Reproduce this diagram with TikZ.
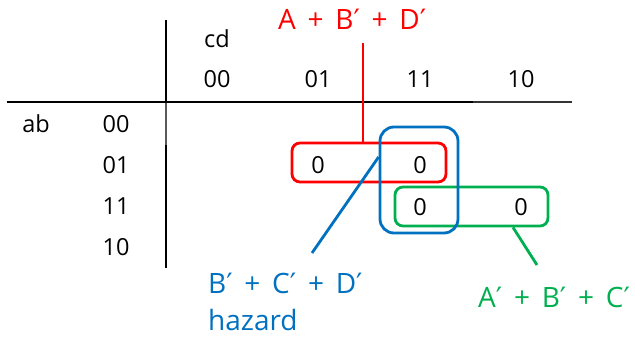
\documentclass[tikz,border=0pt]{standalone}
\usepackage{fontspec}
\setmainfont{Open Sans}
\newfontfamily\djv{DejaVu Sans}
\newcommand\prm{{\djv ′}}
\newcommand\pls{\hspace{0.42em}+\hspace{0.42em}}
\definecolor{kred}{RGB}{255,0,0}
\definecolor{kblue}{RGB}{0,112,192}
\definecolor{kgreen}{RGB}{0,176,80}
\begin{document}
\begin{tikzpicture}[x=1pt,y=-1pt,
  txt/.style={anchor=base,inner sep=0pt,font=\fontsize{23.5}{28}\selectfont},
  ltxt/.style={anchor=base west,inner sep=0pt,font=\fontsize{28}{32}\selectfont},
  grp/.style={draw=#1,line width=2.8pt,rounded corners=8pt,inner sep=0pt},
  lead/.style={draw=#1,line width=2.8pt}]
\useasboundingbox (0,0) rectangle (635,337);
% grid lines
\draw[line width=2.8pt] (166,20) -- (166,102);
\draw[line width=2.8pt,gray!70!black] (166,102) -- (166,145);
\draw[line width=2.8pt] (166,145) -- (166,268);
\draw[line width=2.8pt] (7,102) -- (473,102);
\draw[line width=1.8pt,black!80] (473,102) -- (572,102);
% headers
\node[txt] (cd) at (217,48) {cd};
\node[txt] (c00) at (217,88) {00};
\node[txt] (c01) at (318,88) {01};
\node[txt] (c11) at (420,88) {11};
\node[txt] (c10) at (521,88) {10};
\node[txt] (ab) at (36,132) {ab};
\node[txt] (r00) at (116,132) {00};
\node[txt] (r01) at (116,173) {01};
\node[txt] (r11) at (116,214) {11};
\node[txt] (r10) at (116,255) {10};
% cells
\node[txt] (z1) at (318,173) {0};
\node[txt] (z2) at (420,173) {0};
\node[txt] (z3) at (420,215) {0};
\node[txt] (z4) at (521,215) {0};
% groups
\node[grp=kred,minimum width=154pt,minimum height=39pt] (red) at (369,162.5) {};
\node[grp=kgreen,minimum width=153pt,minimum height=39pt] (green) at (471.5,206.5) {};
\node[grp=kblue,rounded corners=14pt,minimum width=78pt,minimum height=106pt] (blue) at (419,180) {};
% labels
\node[ltxt,text=kred] (redl) at (278,30) {A\pls B\prm\pls D\prm};
\node[ltxt,text=kblue] (bluel) at (208,293) {B\prm\pls C\prm\pls D\prm};
\node[ltxt,text=kblue] (hz) at (208,330.5) {hazard};
\node[ltxt,text=kgreen] (greenl) at (478,307) {A\prm\pls B\prm\pls C\prm};
% leaders
\coordinate (rtop) at (363,43);
\coordinate (bend) at (312,253);
\coordinate (gend) at (537,265);
\draw[lead=kred] (rtop) -- (rtop |- red.north);
\draw[lead=kblue] ([yshift=23pt]blue.west) -- (bend);
\draw[lead=kgreen] (green.south -| 513,0) -- (gend);
\end{tikzpicture}
\end{document}
